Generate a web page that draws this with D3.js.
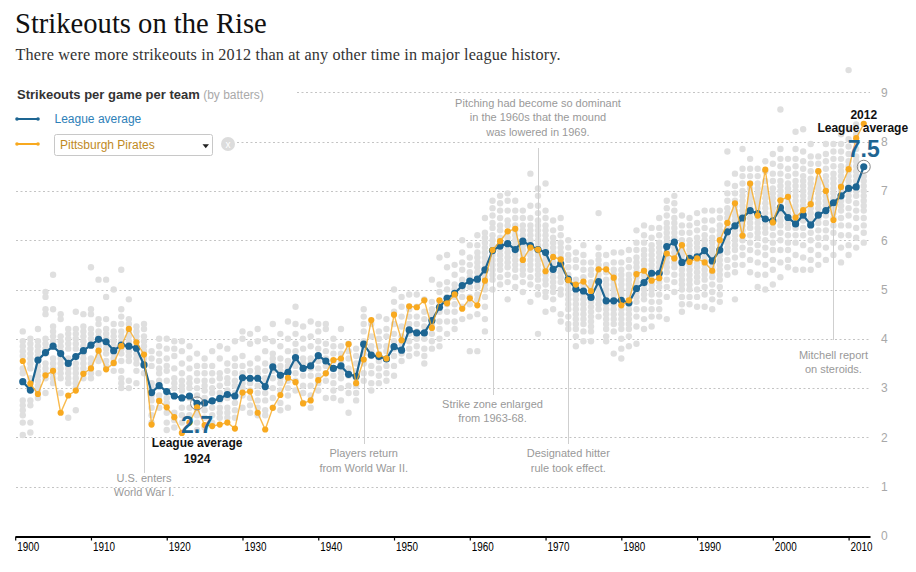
<!DOCTYPE html>
<html><head><meta charset="utf-8">
<script src="https://cdn.jsdelivr.net/npm/d3@7/dist/d3.min.js"></script>
<style>
body{margin:0;background:#fff;}
svg{display:block;}
text{font-family:"Liberation Sans",Arial,sans-serif;}
</style>
</head><body>
<svg id="chart" width="916" height="572"></svg>
<script>
// ---------- DATA ----------
const years = d3.range(1901, 2013);
const leagueAvg = [
 3.13,2.96,3.57,3.72,3.85,3.70,3.50,3.64,3.76,3.87, // 1901-1910
 3.99,3.94,3.76,3.87,3.85,3.81,3.47,2.91,3.05,2.93, // 1911-1920
 2.84,2.80,2.84,2.69,2.70,2.74,2.79,2.87,2.84,3.21, // 1921-1930
 3.20,3.20,3.03,3.43,3.26,3.32,3.62,3.40,3.45,3.66, // 1931-1940
 3.55,3.40,3.45,3.28,3.24,3.89,3.67,3.64,3.59,3.84, // 1941-1950
 3.77,4.18,4.12,4.12,4.37,4.64,4.82,4.92,5.08,5.17, // 1951-1960
 5.21,5.40,5.79,5.88,5.93,5.81,5.98,5.89,5.81,5.75, // 1961-1970
 5.41,5.52,5.21,5.01,4.97,4.84,5.16,4.77,4.77,4.78, // 1971-1980
 4.73,5.02,5.14,5.33,5.33,5.87,5.96,5.55,5.63,5.66, // 1981-1990
 5.79,5.58,5.80,6.17,6.29,6.45,6.60,6.54,6.43,6.39, // 1991-2000
 6.66,6.46,6.33,6.51,6.31,6.51,6.60,6.76,6.90,7.05, // 2001-2010
 7.08,7.49                                          // 2011-2012
];
const pirates = [
 3.55,3.09,2.88,3.26,3.35,2.50,2.85,2.95,3.29,3.40,
 3.76,3.38,3.51,3.85,4.20,3.93,3.68,2.26,2.74,2.61,
 2.41,2.09,2.30,2.61,2.25,2.23,2.26,2.30,2.18,2.91,
 2.93,2.50,2.16,2.60,2.86,3.21,3.12,2.69,2.75,3.16,
 3.30,3.57,3.60,3.89,3.10,3.58,4.38,3.68,3.60,4.49,
 3.97,4.66,4.64,4.78,4.22,4.78,4.72,4.90,4.61,4.82,
 4.68,5.18,5.80,5.98,6.18,6.23,5.60,5.85,5.81,5.37,
 5.66,5.61,5.19,5.10,5.16,4.97,5.41,5.41,5.24,4.68,
 4.78,5.31,5.38,5.18,5.23,5.73,5.63,5.90,5.56,5.63,
 5.55,5.38,6.00,6.35,6.75,6.09,7.15,6.50,7.43,6.36,
 6.81,6.88,6.46,6.61,6.73,7.40,7.00,6.41,7.08,7.44,
 8.07,8.36
];
// every team's strikeouts per game, one list per season (1901-2012)
const teamValues = [
 [4.15,3.95,3.85,3.75,3.65,3.4,3.3,2.75,2.65,2.55,2.45,2.3,2.05], // 1901
 [4.0,3.9,3.8,3.7,3.6,3.5,3.4,3.2,2.75,2.65,2.3,2.1],
 [4.2,3.95,3.85,3.75,3.65,3.45,3.35,3.25,3.15,3.05,2.95,2.8],
 [4.95,4.85,4.6,4.5,4.0,3.9,3.8,3.7,3.5,3.4,3.3,3.2,2.9],
 [5.3,4.6,4.25,4.15,4.05,3.95,3.85,3.6,3.5,3.4,3.3,3.2,3.1],
 [4.5,4.4,4.05,3.95,3.85,3.75,3.6,3.5,3.4,3.3,3.2,2.9],
 [4.2,4.1,4.0,3.9,3.8,3.6,3.5,3.4,3.3,3.2,3.1,2.4],
 [4.55,4.2,4.1,4.0,3.9,3.8,3.5,3.4,3.3,3.2,3.1,3.0,2.55],
 [4.5,4.25,4.15,4.05,3.95,3.85,3.7,3.6,3.5,3.4,3.3,3.2],
 [5.45,4.6,4.5,4.2,4.1,4.0,3.9,3.6,3.5,3.4,3.3,3.2], // 1910
 [5.2,4.4,4.3,4.15,4.05,3.95,3.85,3.75,3.65,3.55,3.3],
 [5.2,4.85,4.4,4.2,4.1,4.0,3.9,3.8,3.7,3.55,3.45],
 [5.0,4.3,4.15,4.05,3.95,3.85,3.7,3.6,3.5,3.35],
 [5.4,4.6,4.45,4.3,4.15,4.05,3.95,3.8,3.7,3.55,3.35,3.2,3.1,3.0],
 [4.8,4.4,4.3,4.15,4.05,3.95,3.85,3.75,3.65,3.55,3.15,3.0],
 [4.25,4.15,4.05,3.95,3.85,3.7,3.6,3.5,3.35,3.1],
 [4.3,4.2,4.05,3.95,3.85,3.75,3.6,3.5,3.3],
 [3.75,3.6,3.45,3.1,3.0,2.85,2.75,2.6,2.45,2.3],
 [4.0,3.85,3.7,3.55,3.4,3.3,3.15,2.85,2.75,2.6],
 [4.0,3.8,3.6,3.45,3.35,3.15,2.8,2.7,2.5,2.3,2.15], // 1920
 [3.95,3.8,3.65,3.4,3.2,3.1,3.0,2.85,2.5,2.35,2.2],
 [3.95,3.75,3.5,3.3,3.15,3.05,2.95,2.6,2.45,2.3],
 [3.85,3.6,3.4,3.2,3.1,3.0,2.8,2.6,2.45,2.3],
 [3.7,3.45,3.3,3.15,3.0,2.85,2.55,2.45,2.3,2.15],
 [3.6,3.45,3.3,3.15,3.05,2.95,2.8,2.55,2.4,2.2],
 [3.75,3.45,3.3,3.15,3.0,2.9,2.6,2.45,2.3],
 [3.85,3.6,3.3,3.2,3.05,2.9,2.75,2.6,2.5,2.4],
 [3.8,3.5,3.35,3.2,3.1,2.95,2.8,2.6,2.5,2.4],
 [3.95,3.6,3.45,3.3,3.15,3.05,2.9,2.7,2.55,2.4],
 [4.15,4.0,3.65,3.45,3.3,3.1,3.0,2.85,2.6], // 1930
 [4.1,3.9,3.5,3.35,3.1,2.95,2.8,2.65,2.5],
 [4.2,3.95,3.6,3.4,3.3,3.05,2.9,2.75,2.6,2.45],
 [4.0,3.75,3.5,3.35,3.2,3.1,2.9,2.75,2.55,2.45],
 [4.3,3.95,3.7,3.6,3.5,3.35,3.2,3.0,2.8,2.6],
 [4.1,3.85,3.6,3.45,3.35,3.2,3.1,2.95,2.7,2.55],
 [4.35,4.0,3.75,3.55,3.45,3.4,3.15,3.0,2.85,2.6],
 [4.65,4.3,4.1,3.9,3.75,3.55,3.45,3.3,3.15,2.95],
 [4.25,4.0,3.8,3.6,3.5,3.45,3.25,3.05,2.9,2.7],
 [4.35,4.05,3.85,3.6,3.5,3.4,3.25,3.05,2.85,2.6],
 [4.3,4.15,3.95,3.8,3.65,3.55,3.4,3.25,3.1,2.95], // 1940
 [4.3,4.2,3.9,3.75,3.6,3.45,3.3,3.15,2.8],
 [4.0,3.85,3.7,3.55,3.4,3.25,3.1,2.95,2.8],
 [4.2,3.85,3.7,3.55,3.4,3.3,3.2,3.0,2.75],
 [3.9,3.75,3.6,3.4,3.3,3.25,3.05,2.9,2.5],
 [3.8,3.65,3.5,3.35,3.25,3.2,3.05,2.9,2.75],
 [4.6,4.45,4.3,4.15,3.95,3.85,3.7,3.5,3.3,3.15],
 [4.3,4.05,3.85,3.75,3.65,3.45,3.3,3.1,2.95],
 [4.45,4.15,4.0,3.85,3.7,3.55,3.4,3.25,3.1],
 [4.4,4.2,4.05,3.85,3.75,3.6,3.45,3.3,3.15],
 [5.0,4.75,4.55,4.3,4.1,3.95,3.8,3.65,3.45,3.25], // 1950
 [4.85,4.65,4.45,4.25,4.05,3.9,3.8,3.7,3.55],
 [4.9,4.6,4.45,4.3,4.2,4.1,3.95,3.8,3.65],
 [4.9,4.65,4.45,4.3,4.15,4.05,4.0,3.85,3.7],
 [4.8,4.55,4.4,4.25,4.1,4.0,3.8,3.65,3.5],
 [5.2,4.75,4.6,4.5,4.45,4.3,4.1,3.95,3.8],
 [5.65,5.1,4.95,4.75,4.65,4.55,4.35,4.2,4.0,3.85],
 [5.7,5.45,5.15,5.0,4.85,4.75,4.7,4.55,4.35,4.1],
 [5.5,5.3,5.1,5.0,4.9,4.85,4.7,4.55,4.35,4.2],
 [6.0,5.75,5.55,5.4,5.2,5.1,5.0,4.85,4.65,4.4],
 [5.9,5.65,5.5,5.35,5.25,5.2,5.05,4.85,4.7,4.45,3.75], // 1960
 [6.1,5.9,5.75,5.65,5.55,5.45,5.35,5.25,5.15,5.05,4.9,4.8,4.5,3.75],
 [6.45,6.15,6.05,5.95,5.85,5.75,5.65,5.55,5.45,5.35,5.25,5.1,5.0,4.85,4.65,4.4,4.15],
 [6.8,6.65,6.5,6.35,6.25,6.1,6.0,5.9,5.8,5.7,5.6,5.5,5.4,5.3,5.2,5.0],
 [6.9,6.75,6.6,6.45,6.3,6.2,6.05,5.95,5.8,5.7,5.6,5.5,5.4,5.25,5.1],
 [6.95,6.8,6.6,6.4,6.3,6.15,6.05,5.95,5.85,5.75,5.65,5.55,5.45,5.3,5.15,4.8],
 [6.8,6.6,6.45,6.3,6.2,6.1,6.0,5.9,5.8,5.7,5.6,5.5,5.4,5.25,5.05],
 [6.6,6.45,6.3,6.2,6.1,6.0,5.9,5.8,5.7,5.6,5.5,5.4,5.3,5.15,4.95],
 [7.35,6.7,6.45,6.3,6.2,6.1,6.0,5.9,5.8,5.7,5.6,5.5,5.4,5.25,5.1,4.75],
 [7.05,6.9,6.7,6.55,6.4,6.3,6.2,6.1,6.0,5.9,5.8,5.7,5.6,5.5,5.4,5.3,5.2,5.05,4.9,4.1],
 [7.15,6.6,6.45,6.3,6.2,6.1,6.0,5.9,5.8,5.7,5.6,5.5,5.4,5.3,5.2,5.1,4.95,4.85,4.55], // 1970
 [6.4,6.2,6.05,5.95,5.85,5.75,5.65,5.55,5.45,5.35,5.25,5.15,5.05,4.95,4.8,4.6],
 [6.45,6.25,6.1,5.95,5.85,5.75,5.65,5.55,5.45,5.35,5.25,5.15,5.0,4.9,4.5,4.35],
 [6.0,5.85,5.7,5.6,5.45,5.3,5.2,5.1,5.0,4.9,4.8,4.7,4.6,4.45,4.3,4.2],
 [5.75,5.6,5.45,5.2,5.1,5.0,4.9,4.8,4.7,4.6,4.5,4.4,4.3,4.2,4.05,3.85],
 [5.9,5.7,5.55,5.4,5.25,5.1,5.0,4.9,4.8,4.7,4.6,4.5,4.4,4.3,4.15,3.95],
 [5.55,5.4,5.3,5.15,5.05,4.95,4.85,4.75,4.65,4.55,4.45,4.35,4.25,4.15,3.95],
 [6.55,5.85,5.7,5.6,5.5,5.4,5.3,5.2,5.1,5.0,4.9,4.8,4.7,4.6,4.45],
 [5.7,5.5,5.35,5.2,5.1,5.0,4.9,4.8,4.7,4.6,4.5,4.4,4.3,4.2,4.05,3.95],
 [5.75,5.55,5.4,5.3,5.2,5.1,5.0,4.9,4.8,4.7,4.6,4.5,4.4,4.3,4.15,3.7],
 [5.75,5.55,5.4,5.3,5.2,5.1,5.0,4.9,4.8,4.7,4.6,4.5,4.4,4.3,4.2,4.0,3.8,3.6], // 1980
 [5.8,5.6,5.45,5.3,5.2,5.1,5.0,4.9,4.8,4.7,4.6,4.5,4.4,4.3,4.2,4.05,3.85],
 [6.2,5.95,5.8,5.65,5.55,5.45,5.35,5.25,5.15,5.05,4.95,4.85,4.75,4.6,4.45,4.25,3.9],
 [6.3,6.1,5.95,5.8,5.7,5.6,5.5,5.4,5.3,5.2,5.1,5.0,4.9,4.8,4.6,4.4,4.2],
 [6.25,6.05,5.9,5.8,5.7,5.6,5.5,5.4,5.3,5.2,5.1,5.0,4.9,4.75,4.6,4.45,4.25],
 [6.45,6.25,6.1,5.95,5.85,5.75,5.65,5.55,5.45,5.35,5.25,5.15,5.05,4.9,4.75,4.6,4.45],
 [6.8,6.65,6.5,6.35,6.25,6.15,6.05,5.95,5.85,5.75,5.65,5.55,5.45,5.35,5.2,5.05,4.85,4.4],
 [6.9,6.75,6.6,6.45,6.35,6.25,6.15,6.05,5.95,5.85,5.75,5.65,5.55,5.45,5.3,5.15,4.95],
 [6.5,6.3,6.15,6.0,5.9,5.8,5.7,5.6,5.5,5.4,5.3,5.2,5.1,5.0,4.85,4.7,4.55],
 [6.45,6.3,6.15,6.0,5.9,5.8,5.7,5.6,5.5,5.4,5.3,5.2,5.1,5.0,4.85,4.7],
 [6.55,6.35,6.2,6.05,5.95,5.85,5.75,5.65,5.55,5.45,5.35,5.25,5.15,5.0,4.85,4.65], // 1990
 [6.6,6.4,6.25,6.1,6.0,5.9,5.8,5.7,5.6,5.5,5.4,5.3,5.2,5.05,4.9,4.65],
 [6.6,6.4,6.2,6.05,5.95,5.85,5.75,5.65,5.55,5.45,5.35,5.25,5.1,4.95,4.8,4.6],
 [6.6,6.45,6.3,6.2,6.1,6.0,5.9,5.8,5.7,5.6,5.5,5.4,5.3,5.2,5.05,4.9,4.75],
 [7.8,7.15,6.95,6.8,6.65,6.55,6.45,6.35,6.25,6.15,6.05,5.95,5.85,5.75,5.6,5.45,5.3],
 [7.35,7.1,6.95,6.8,6.7,6.6,6.5,6.4,6.3,6.2,6.1,6.0,5.9,5.8,5.65,5.5,5.35,4.8],
 [7.85,7.45,7.3,7.15,7.0,6.9,6.8,6.7,6.6,6.5,6.4,6.3,6.2,6.1,6.0,5.85,5.7,5.5],
 [7.65,7.45,7.3,7.15,7.05,6.95,6.85,6.75,6.65,6.55,6.45,6.35,6.25,6.1,5.95,5.8,5.6,5.35],
 [7.45,7.3,7.15,7.05,6.95,6.85,6.75,6.65,6.55,6.45,6.35,6.25,6.15,6.05,5.9,5.75,5.55,5.3,5.05],
 [7.6,7.4,7.2,7.05,6.95,6.85,6.75,6.65,6.55,6.45,6.35,6.25,6.15,6.0,5.85,5.7,5.5,5.3,5.0],
 [7.75,7.55,7.35,7.2,7.05,6.95,6.85,6.75,6.65,6.55,6.45,6.35,6.25,6.1,5.95,5.8,5.6,5.4,5.1], // 2000
 [8.65,7.85,7.65,7.5,7.35,7.2,7.1,7.0,6.9,6.8,6.7,6.6,6.5,6.4,6.3,6.15,6.0,5.8,5.55,5.25],
 [7.65,7.45,7.3,7.15,7.05,6.95,6.85,6.75,6.65,6.55,6.45,6.35,6.25,6.1,5.95,5.8,5.6,5.45],
 [8.2,7.85,7.65,7.5,7.35,7.2,7.1,7.0,6.9,6.8,6.7,6.6,6.5,6.4,6.25,6.1,5.95,5.7,5.4],
 [8.25,7.8,7.6,7.45,7.3,7.2,7.1,7.0,6.9,6.8,6.7,6.6,6.5,6.4,6.25,6.1,5.9,5.65,5.4],
 [7.95,7.7,7.55,7.4,7.25,7.15,7.05,6.95,6.85,6.75,6.65,6.55,6.45,6.3,6.15,6.0,5.8,5.6,5.4],
 [7.7,7.55,7.4,7.25,7.15,7.05,6.95,6.85,6.75,6.65,6.55,6.45,6.35,6.2,6.05,5.9,5.7,5.5],
 [7.95,7.75,7.6,7.45,7.3,7.2,7.1,7.0,6.9,6.8,6.7,6.6,6.5,6.35,6.2,6.05,5.85,5.6],
 [7.95,7.8,7.65,7.5,7.35,7.25,7.15,7.05,6.95,6.85,6.75,6.65,6.55,6.45,6.3,6.15,5.95,5.7],
 [8.15,7.95,7.8,7.65,7.5,7.4,7.3,7.2,7.1,7.0,6.9,6.8,6.7,6.6,6.45,6.3,6.1,5.85,5.55],
 [9.45,8.25,8.05,7.9,7.75,7.6,7.5,7.4,7.3,7.2,7.1,7.0,6.9,6.8,6.65,6.5,6.3,6.1,5.9,5.7], // 2010
 [8.35,8.15,8.0,7.85,7.7,7.6,7.5,7.4,7.3,7.2,7.1,7.0,6.9,6.75,6.6,6.45,6.25,6.05,5.85],
 [7.3,7.2,7.1,7.0,6.9,6.8,6.7,6.6,6.45,6.3,6.15,5.95]
];
const xTickLabels = [1900,1910,1920,1930,1940,1950,1960,1970,1980,1990,2000,2010];
const yTickLabels = [0,1,2,3,4,5,6,7,8,9];
const notes = [
  {year:1917, lines:["U.S. enters","World War I."], textY:482, lineEnd:473},
  {year:1946, lines:["Players return","from World War II."], textY:457.3, lineEnd:444},
  {year:1963, lines:["Strike zone enlarged","from 1963-68."], textY:407.7, lineEnd:395},
  {year:1973, lines:["Designated hitter","rule took effect."], textY:457.3, lineEnd:444},
  {year:2008, lines:["Mitchell report","on steroids."], textY:359, lineEnd:340},
  {year:1969, lines:["Pitching had become so dominant","in the 1960s that the mound","was lowered in 1969."], textY:107, lineEnd:148, above:true}
];

// ---------- CHART ----------
const BLUE = "#1d6592", ORANGE = "#f8a91f", GREY = "#dfdfdf";
const svg = d3.select("#chart");
const x = d3.scaleLinear().domain([1900, 2010]).range([15.2, 848.6]);
const y = d3.scaleLinear().domain([0, 9]).range([536, 92.3]);

// title
svg.append("text").attr("x",15).attr("y",33)
  .style("font-family","'Liberation Serif','Times New Roman',serif")
  .style("font-size","28.6px").attr("fill","#111").text("Strikeouts on the Rise");
svg.append("text").attr("x",15.5).attr("y",59.5)
  .style("font-family","'Liberation Serif','Times New Roman',serif")
  .style("font-size","16.2px").attr("fill","#333")
  .attr("textLength",545).attr("lengthAdjust","spacing")
  .text("There were more strikeouts in 2012 than at any other time in major league history.");

// gridlines
const gridStart = {9:297, 8:237};
svg.append("g").selectAll("line").data(yTickLabels.filter(d=>d>0)).join("line")
  .attr("x1", d => gridStart[d] || 16).attr("x2", 870)
  .attr("y1", d => Math.round(y(d))+0.5).attr("y2", d => Math.round(y(d))+0.5)
  .attr("stroke","#c4c4c4").attr("stroke-dasharray","2,2.5");

// y axis labels (right)
const yAxis = d3.axisRight(y).tickValues(yTickLabels).tickSize(0).tickPadding(3).tickFormat(d3.format("d"));
const gy = svg.append("g").attr("transform","translate(878,0)").call(yAxis);
gy.select(".domain").remove();
gy.selectAll("text").attr("fill","#a8a8a8").style("font-size","12px")
  .style("font-family","'Liberation Sans',Arial,sans-serif");

// x axis
const xAxisScale = x.copy().domain([1900, x.invert(870)]).range([15.2, 870]);
const xAxis = d3.axisBottom(xAxisScale).tickValues(xTickLabels).tickSize(4).tickSizeOuter(0).tickFormat(d3.format("d"));
const gx = svg.append("g").attr("transform","translate(0,536.5)").call(xAxis);
gx.select(".domain").attr("stroke","#000").attr("stroke-width",1.8);
gx.selectAll(".tick line").attr("stroke","#000").attr("stroke-width",1.2);
gx.selectAll("text").attr("fill","#000").attr("text-anchor","start").attr("x",1.5).attr("dy",null).attr("y",14)
  .style("font-size","12px").attr("textLength",22).attr("lengthAdjust","spacingAndGlyphs")
  .style("font-family","'Liberation Sans',Arial,sans-serif");

// grey team dots
const allTeams = [];
years.forEach((yr,i) => teamValues[i].forEach(v => allTeams.push({yr, v})));
svg.append("g").selectAll("circle").data(allTeams).join("circle")
  .attr("cx", d => x(d.yr)).attr("cy", d => y(d.v)).attr("r",3.2).attr("fill",GREY);

// annotation lines & text
const gNotes = svg.append("g");
notes.forEach(n => {
  const i = years.indexOf(n.year);
  const yTop = n.above ? n.lineEnd : y(leagueAvg[i]) + 4;
  const yBot = n.above ? y(leagueAvg[i]) - 4 : n.lineEnd;
  gNotes.append("line").attr("x1", Math.round(x(n.year))+0.5).attr("x2", Math.round(x(n.year))+0.5)
    .attr("y1", yTop).attr("y2", yBot).attr("stroke","#cfcfcf").attr("stroke-width",1);
  n.lines.forEach((t,k) => {
    gNotes.append("text").attr("x", x(n.year)).attr("y", n.textY + k*14.3)
      .attr("text-anchor","middle").attr("fill","#999").style("font-size","11px").text(t);
  });
});

const line = d3.line().x((d,i) => x(years[i])).y(d => y(d));
// League average line
svg.append("path").datum(leagueAvg).attr("d", line).attr("fill","none")
  .attr("stroke",BLUE).attr("stroke-width",2.2).attr("stroke-linejoin","round");
svg.append("g").selectAll("circle").data(leagueAvg).join("circle")
  .attr("cx",(d,i)=>x(years[i])).attr("cy",d=>y(d)).attr("r",3.6).attr("fill",BLUE);
// Pirates line
svg.append("path").datum(pirates).attr("d", line).attr("fill","none")
  .attr("stroke",ORANGE).attr("stroke-opacity",0.8).attr("stroke-width",1.4);
svg.append("g").selectAll("circle").data(pirates).join("circle")
  .attr("cx",(d,i)=>x(years[i])).attr("cy",d=>y(d)).attr("r",3.1).attr("fill",ORANGE);

// highlight rings
[1924, 2012].forEach(yr => {
  const i = years.indexOf(yr);
  svg.append("circle").attr("cx", x(yr)).attr("cy", y(leagueAvg[i])).attr("r",6.5)
    .attr("fill","none").attr("stroke","#8a8a8a").attr("stroke-width",1);
});

// 1924 label
const i1924 = years.indexOf(1924), i2012 = years.indexOf(2012);
svg.append("text").attr("x", x(1924)).attr("y",432.7).attr("text-anchor","middle")
  .attr("fill",BLUE).attr("font-size",23).attr("font-weight",700)
  .text(d3.format(".1f")(leagueAvg[i1924]));
svg.append("text").attr("x", x(1924)).attr("y",446.7).attr("text-anchor","middle")
  .attr("fill","#111").attr("font-size",12).attr("font-weight",700).text("League average");
svg.append("text").attr("x", x(1924)).attr("y",462.7).attr("text-anchor","middle")
  .attr("fill","#111").attr("font-size",12).attr("font-weight",700).text("1924");
// 2012 label
svg.append("text").attr("x", x(2012)).attr("y",119).attr("text-anchor","middle")
  .attr("fill","#111").attr("font-size",12).attr("font-weight",700).text("2012");
svg.append("text").attr("x", x(2012)-1).attr("y",131.7).attr("text-anchor","middle")
  .attr("fill","#111").attr("font-size",12).attr("font-weight",700).text("League average");
svg.append("text").attr("x", x(2012)).attr("y",156.7).attr("text-anchor","middle")
  .attr("fill",BLUE).attr("font-size",23).attr("font-weight",700)
  .text(d3.format(".1f")(leagueAvg[i2012]));

// header + legend
const hdr = svg.append("text").attr("x",17).attr("y",98.5).attr("fill","#333")
  .attr("font-size",13).attr("font-weight",700).text("Strikeouts per game per team");
hdr.append("tspan").attr("fill","#aaa").attr("font-weight",400).attr("font-size",12).text(" (by batters)");

const lg = svg.append("g");
[[119, BLUE],[144, ORANGE]].forEach(([ly,c]) => {
  lg.append("line").attr("x1",17).attr("x2",38).attr("y1",ly).attr("y2",ly).attr("stroke",c).attr("stroke-width",2);
  lg.append("circle").attr("cx",17).attr("cy",ly).attr("r",1.8).attr("fill",c);
  lg.append("circle").attr("cx",38).attr("cy",ly).attr("r",1.8).attr("fill",c);
});
lg.append("text").attr("x",54.5).attr("y",123).attr("fill","#2d80b8").attr("font-size",12).text("League average");
lg.append("rect").attr("x",54.5).attr("y",134.5).attr("width",158).attr("height",21).attr("rx",2)
  .attr("fill","#fff").attr("stroke","#c8c8c8");
lg.append("text").attr("x",60).attr("y",149).attr("fill","#c08a1e").attr("font-size",12).text("Pittsburgh Pirates");
lg.append("path").attr("d","M202.5,144.2 L209,144.2 L205.75,148.2 Z").attr("fill","#222");
lg.append("circle").attr("cx",228).attr("cy",144).attr("r",7).attr("fill","#dcdcdc");
lg.append("text").attr("x",228).attr("y",147.5).attr("text-anchor","middle").attr("fill","#fff")
  .attr("font-size",10).text("x");
</script>
</body></html>
